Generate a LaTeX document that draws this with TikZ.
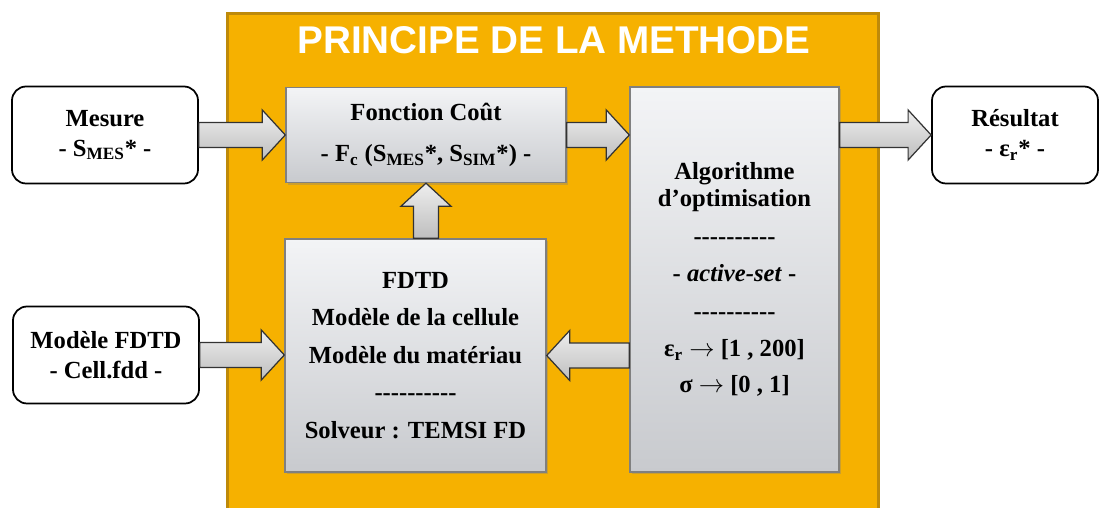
\documentclass[tikz,border=0pt]{standalone}
\usepackage{fontspec}
\setmainfont{Liberation Serif}
\newfontfamily\titlefont{Liberation Sans}
\usetikzlibrary{calc,shadows}
\definecolor{frameFill}{RGB}{246,177,0}
\definecolor{frameLine}{RGB}{190,138,10}
\definecolor{boxTop}{RGB}{243,244,246}
\definecolor{boxBot}{RGB}{200,202,206}
\definecolor{boxLine}{RGB}{128,128,128}
\definecolor{arrTop}{RGB}{238,238,238}
\definecolor{arrBot}{RGB}{190,190,190}

\begin{document}
\begin{tikzpicture}[
  font=\bfseries\fontsize{14}{17}\selectfont,
  frame/.style={draw=frameLine, line width=1.6pt, fill=frameFill},
  io/.style={rounded corners=8pt, draw=black, line width=1pt, fill=white, align=center,
             minimum width=3.72cm, minimum height=1.94cm},
  block/.style={draw=boxLine, line width=0.8pt, top color=boxTop, bottom color=boxBot, align=center,
                drop shadow={shadow xshift=1.2pt, shadow yshift=-1.2pt, opacity=0.35}},
  fat/.style={draw=black!80, line width=0.7pt, top color=arrTop, bottom color=arrBot},
]

\def\shaftW{0.25cm}
\def\headW{0.5cm}
\def\headL{0.46cm}
\def\dashrow{-{}-{}-{}-{}-{}-{}-{}-{}-{}-}
\def\fatarrow#1#2{%
  \coordinate (fa-s) at (#1);
  \coordinate (fa-t) at (#2);
  \coordinate (fa-h) at ($(fa-t)!\headL!(fa-s)$);
  \path[fat] ($(fa-s)!\shaftW!90:(fa-t)$) -- ($(fa-h)!\shaftW!90:(fa-t)$)
    -- ($(fa-h)!\headW!90:(fa-t)$) -- (fa-t) -- ($(fa-h)!\headW!-90:(fa-t)$)
    -- ($(fa-h)!\shaftW!-90:(fa-t)$) -- ($(fa-s)!\shaftW!-90:(fa-t)$) -- cycle;}

\useasboundingbox (0,0) rectangle (22.1,10.16);

% ---------- frame ----------
\draw[frame] (4.55,-0.3) rectangle (17.57,9.89);
\node[font=\titlefont\bfseries\fontsize{22}{26}\selectfont, text=white, anchor=base]
  (title) at (11.08,9.09) {PRINCIPE DE LA METHODE};

% ---------- inputs / output ----------
\node[io] (M) at (2.10,7.46) {Mesure\\- S\textsubscript{MES}* -};
\node[io] (MF) at (2.12,3.06) {Modèle FDTD\\- Cell.fdd -};
\node[io, minimum width=3.32cm] (R) at (20.30,7.46) {Résultat\\- ε\textsubscript{r}* -};

% ---------- inner blocks ----------
\node[block, minimum width=5.6cm, minimum height=1.9cm, font=\bfseries\fontsize{14}{23.8}\selectfont]
  (FC) at (8.52,7.46) {Fonction Coût\\- F\textsubscript{c} (S\textsubscript{MES}*, S\textsubscript{SIM}*) -};
\node[block, minimum width=5.22cm, minimum height=4.66cm, font=\bfseries\fontsize{14}{21.3}\selectfont]
  (FD) at (8.31,3.05) {FDTD\\Modèle de la cellule\\Modèle du matériau\\\dashrow\\Solveur : TEMSI FD};
\node[block, minimum width=4.18cm, minimum height=7.7cm, font=\bfseries\fontsize{14}{15.4}\selectfont]
  (AL) at (14.69,4.57) {Algorithme\\d’optimisation\\[6pt]\dashrow\\[6pt]- \textit{active-set} -\\[6pt]
  \dashrow\\[6pt]ε\textsubscript{r} $\rightarrow$ [1 , 200]\\[5pt]σ $\rightarrow$ [0 , 1]};

% ---------- arrows ----------
\fatarrow{M.east}{FC.west}
\fatarrow{FC.east}{AL.west |- FC.east}
\fatarrow{AL.east |- R.west}{R.west}
\fatarrow{MF.east}{FD.west |- MF.east}
\fatarrow{AL.west |- FD.east}{FD.east}
\fatarrow{FD.north -| FC.south}{FC.south}

\end{tikzpicture}
\end{document}
